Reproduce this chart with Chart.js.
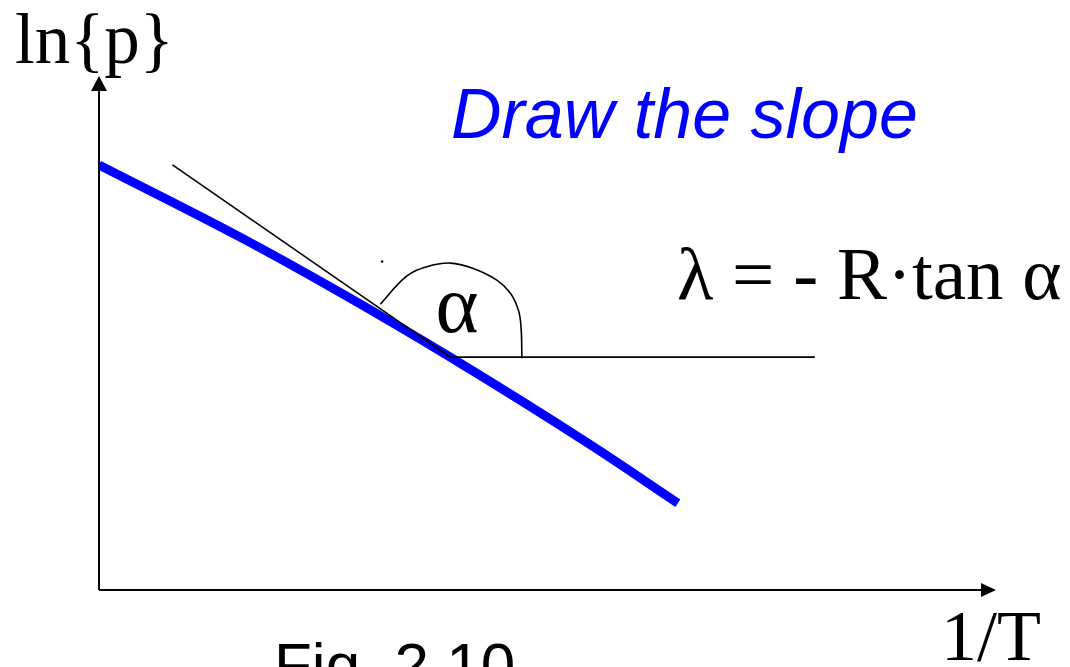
<!DOCTYPE html>
<html>
<head>
<meta charset="utf-8">
<title>Draw the slope</title>
<script src="https://cdn.jsdelivr.net/npm/chart.js@4.4.1/dist/chart.umd.min.js"></script>
<style>
  html, body { margin: 0; padding: 0; background: #ffffff; }
  #wrap { position: relative; width: 1070px; height: 667px; }
</style>
</head>
<body>
<div id="wrap"><canvas id="chart"></canvas></div>
<script>
// Vapour-pressure curve ln{p} against 1/T, with the tangent used to read the slope
const slopeX = [0.0, 1.57, 2.69, 3.92, 5.48, 6.46];
const slopeY = [8.27, 6.87, 5.79, 4.53, 2.83, 1.69];

// tangent line at the chosen point and the horizontal reference line
const tangentX = [0.82, 3.92];
const tangentY = [8.27, 4.53];
const baseX = [3.92, 7.99];
const baseY = [4.53, 4.53];

// arc marking the angle alpha
const arcX = [3.14, 3.43, 3.66, 3.92, 4.17, 4.44, 4.59, 4.68, 4.71, 4.72];
const arcY = [5.56, 6.10, 6.29, 6.36, 6.26, 6.03, 5.78, 5.45, 5.12, 4.51];

// stray pen dot next to the arc
const dotX = [3.16];
const dotY = [6.39];

// axis ranges
const xRange = [0, 10];
const yRange = [0, 10];

// labels
const yAxisLabel = 'ln{p}';
const xAxisLabel = '1/T';
const headline = 'Draw the slope';
const formula = 'λ = - R·tan α';
const angleLabel = 'α';
const figLabel = 'Fig. 2.10';

const toPoints = (xs, ys) => xs.map((x, i) => ({ x: x, y: ys[i] }));

const serif = '"Liberation Serif", "Times New Roman", serif';
const sans = '"Liberation Sans", Arial, sans-serif';

const sketchDecor = {
  id: 'sketchDecor',
  beforeDatasetsDraw(chart) {
    const { ctx, scales } = chart;
    const x0 = scales.x.getPixelForValue(xRange[0]);
    const x1 = scales.x.getPixelForValue(xRange[1]);
    const y0 = scales.y.getPixelForValue(yRange[0]);
    const y1 = scales.y.getPixelForValue(yRange[1]);
    ctx.save();
    ctx.strokeStyle = '#000';
    ctx.fillStyle = '#000';
    ctx.lineWidth = 2;
    ctx.beginPath();
    ctx.moveTo(x0, y0);
    ctx.lineTo(x0, y1 + 12);
    ctx.moveTo(x0, y0);
    ctx.lineTo(x1 - 12, y0);
    ctx.stroke();
    // arrow heads
    ctx.beginPath();
    ctx.moveTo(x0, y1);
    ctx.lineTo(x0 - 8, y1 + 15);
    ctx.lineTo(x0 + 8, y1 + 15);
    ctx.closePath();
    ctx.fill();
    ctx.beginPath();
    ctx.moveTo(x1 + 1, y0);
    ctx.lineTo(x1 - 14, y0 - 7);
    ctx.lineTo(x1 - 14, y0 + 7);
    ctx.closePath();
    ctx.fill();
    ctx.restore();
  },
  afterDraw(chart) {
    const { ctx } = chart;
    ctx.save();
    ctx.textBaseline = 'alphabetic';
    ctx.textAlign = 'left';
    ctx.fillStyle = '#000';
    ctx.font = '71px ' + serif;
    ctx.fillText(yAxisLabel, 15, 63);
    ctx.font = '72px ' + serif;
    ctx.fillText(xAxisLabel, 941, 660);
    ctx.font = '75px ' + serif;
    ctx.fillText(formula, 677, 299);
    ctx.font = '82px ' + serif;
    ctx.textAlign = 'center';
    ctx.fillText(angleLabel, 457, 332);
    ctx.textAlign = 'left';
    ctx.font = '62px ' + sans;
    ctx.fillText(figLabel, 274, 686);
    ctx.fillStyle = '#0000ff';
    ctx.font = 'italic 70px ' + sans;
    ctx.fillText(headline, 451, 138);
    ctx.restore();
  }
};

new Chart(document.getElementById('chart'), {
  type: 'scatter',
  data: {
    datasets: [
      {
        data: toPoints(tangentX, tangentY),
        showLine: true,
        borderColor: '#000',
        borderWidth: 1.6,
        pointRadius: 0,
        order: 1
      },
      {
        data: toPoints(baseX, baseY),
        showLine: true,
        borderColor: '#000',
        borderWidth: 1.6,
        pointRadius: 0,
        order: 1
      },
      {
        data: toPoints(arcX, arcY),
        showLine: true,
        borderColor: '#000',
        borderWidth: 1.6,
        tension: 0.4,
        pointRadius: 0,
        order: 1
      },
      {
        data: toPoints(dotX, dotY),
        showLine: false,
        backgroundColor: '#000',
        borderWidth: 0,
        pointRadius: 1.3,
        order: 1
      },
      {
        data: toPoints(slopeX, slopeY),
        showLine: true,
        borderColor: '#0000ff',
        borderWidth: 9,
        borderCapStyle: 'butt',
        cubicInterpolationMode: 'monotone',
        pointRadius: 0,
        order: 2
      }
    ]
  },
  options: {
    responsive: true,
    maintainAspectRatio: false,
    animation: false,
    layout: { padding: { left: 99, right: 75, top: 76, bottom: 77 } },
    plugins: {
      legend: { display: false },
      tooltip: { enabled: false },
      title: { display: false }
    },
    scales: {
      x: { type: 'linear', min: xRange[0], max: xRange[1], display: false },
      y: { type: 'linear', min: yRange[0], max: yRange[1], display: false }
    }
  },
  plugins: [sketchDecor]
});
</script>
</body>
</html>
